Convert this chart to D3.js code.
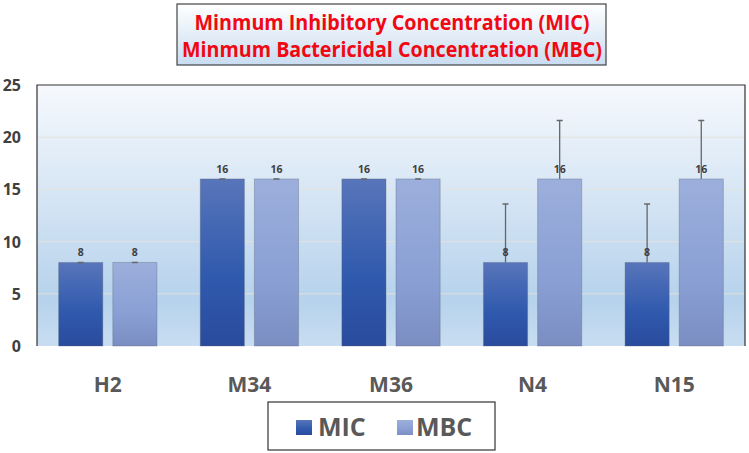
<!DOCTYPE html>
<html><head><meta charset="utf-8">
<script src="https://cdn.jsdelivr.net/npm/d3@7"></script>
<style>body{margin:0;background:#fff}svg{display:block}</style>
</head><body>
<script>
const categories = ["H2","M34","M36","N4","N15"];
const seriesNames = ["MIC","MBC"];
const micValues = [8,16,16,8,8];
const mbcValues = [8,16,16,16,16];
const micErrors = [0,0,0,5.6,5.6];
const mbcErrors = [0,0,0,5.6,5.6];
const yTicks = [0,5,10,15,20,25];
const titleLines = ["Minmum Inhibitory Concentration (MIC)","Minmum Bactericidal Concentration (MBC)"];

const W=749,H=453;
const m={l:37,r:4,t:85,b:107};
const svg=d3.select("body").append("svg").attr("width",W).attr("height",H);
const defs=svg.append("defs");
function grad(id,stops){const g=defs.append("linearGradient").attr("id",id).attr("x1",0).attr("y1",0).attr("x2",0).attr("y2",1);
 stops.forEach(s=>g.append("stop").attr("offset",s[0]).attr("stop-color",s[1]));}
grad("bg",[[0,"#f6f9fd"],[0.45,"#d4e4f4"],[0.82,"#b6d2ec"],[1,"#c8ddf1"]]);
grad("mic",[[0,"#5875ba"],[0.6,"#2f59ad"],[1,"#2a4b9d"]]);
grad("mbc",[[0,"#9cafdc"],[0.6,"#8a9fd4"],[1,"#7a8ec2"]]);
grad("tb",[[0,"#ffffff"],[1,"#c9dcf0"]]);

const x=d3.scaleBand().domain(categories).range([m.l,W-m.r]);
const x1=d3.scaleBand().domain(seriesNames).range([0,x.bandwidth()]).paddingInner(0.185).paddingOuter(0.4);
const y=d3.scaleLinear().domain([0,25]).range([H-m.b,m.t]);

svg.append("rect").attr("x",m.l).attr("y",m.t).attr("width",W-m.r-m.l).attr("height",H-m.b-m.t).attr("fill","url(#bg)");
svg.append("g").selectAll("line").data(yTicks.filter(d=>d>0&&d<25)).join("line")
 .attr("x1",m.l).attr("x2",W-m.r).attr("y1",d=>y(d)).attr("y2",d=>y(d)).attr("stroke","#e2e2dc").attr("stroke-width",1);
svg.append("path").attr("d",`M${m.l},${H-m.b}V${m.t}H${W-m.r}V${H-m.b}`).attr("fill","none").attr("stroke","#333").attr("stroke-width",1.2);

const series=[{name:"MIC",vals:micValues,err:micErrors,fill:"url(#mic)"},{name:"MBC",vals:mbcValues,err:mbcErrors,fill:"url(#mbc)"}];
series.forEach(s=>{
 const g=svg.append("g");
 const d=categories.map((c,i)=>({c,v:s.vals[i],e:s.err[i]}));
 g.selectAll("rect").data(d).join("rect")
  .attr("x",d=>x(d.c)+x1(s.name)).attr("width",x1.bandwidth())
  .attr("y",d=>y(d.v)).attr("height",d=>y(0)-y(d.v)).attr("fill",s.fill)
  .attr("stroke","rgba(90,100,120,0.35)").attr("stroke-width",1);
 const cx=d=>x(d.c)+x1(s.name)+x1.bandwidth()/2;
 g.selectAll("line.e").data(d).join("line").attr("class","e")
  .attr("x1",cx).attr("x2",cx).attr("y1",d=>y(d.v)).attr("y2",d=>y(d.v+d.e)).attr("stroke","#666").attr("stroke-width",1.3);
 g.selectAll("line.c").data(d).join("line").attr("class","c")
  .attr("x1",d=>cx(d)-3).attr("x2",d=>cx(d)+3).attr("y1",d=>y(d.v+d.e)).attr("y2",d=>y(d.v+d.e)).attr("stroke","#666").attr("stroke-width",1.5);
 g.selectAll("text").data(d).join("text")
  .attr("x",cx).attr("y",d=>y(d.v)-6).attr("text-anchor","middle")
  .attr("font-family","Open Sans, sans-serif").attr("font-size",10.5).attr("font-weight","bold").attr("fill","#404040")
  .text(d=>d.v);
});

svg.append("g").selectAll("text").data(yTicks).join("text")
 .attr("x",21).attr("y",d=>y(d)+6).attr("text-anchor","end")
 .attr("font-family","Open Sans, sans-serif").attr("font-size",16).attr("font-weight","bold").attr("fill","#404040").text(d=>d);
svg.append("g").selectAll("text").data(categories).join("text")
 .attr("x",d=>x(d)+x.bandwidth()/2).attr("y",392).attr("text-anchor","middle")
 .attr("font-family","Open Sans, sans-serif").attr("font-size",21).attr("font-weight","bold").attr("fill","#595959").text(d=>d);

svg.append("rect").attr("x",177).attr("y",4).attr("width",429).attr("height",61).attr("fill","url(#tb)").attr("stroke","#444").attr("stroke-width",1.2);
svg.append("g").selectAll("text").data(titleLines).join("text")
 .attr("x",392).attr("y",(d,i)=>30+i*27).attr("text-anchor","middle")
 .attr("font-family","Open Sans, sans-serif").attr("font-size",21).attr("font-weight","bold").attr("fill","#f00812")
 .attr("textLength",(d,i)=>i?420:395).attr("lengthAdjust","spacingAndGlyphs").text(d=>d);

svg.append("rect").attr("x",268).attr("y",402).attr("width",227).attr("height",48).attr("fill","#fff").attr("stroke","#333").attr("stroke-width",1.2);
const lg=[{n:"MIC",fill:"url(#mic)",sx:296,tx:318},{n:"MBC",fill:"url(#mbc)",sx:397,tx:416}];
lg.forEach(l=>{
 svg.append("rect").attr("x",l.sx).attr("y",420).attr("width",16).attr("height",15).attr("fill",l.fill);
 svg.append("text").attr("x",l.tx).attr("y",436).attr("font-family","Open Sans, sans-serif").attr("font-size",25).attr("font-weight","bold").attr("fill","#595959").text(l.n);
});
</script>
</body></html>
